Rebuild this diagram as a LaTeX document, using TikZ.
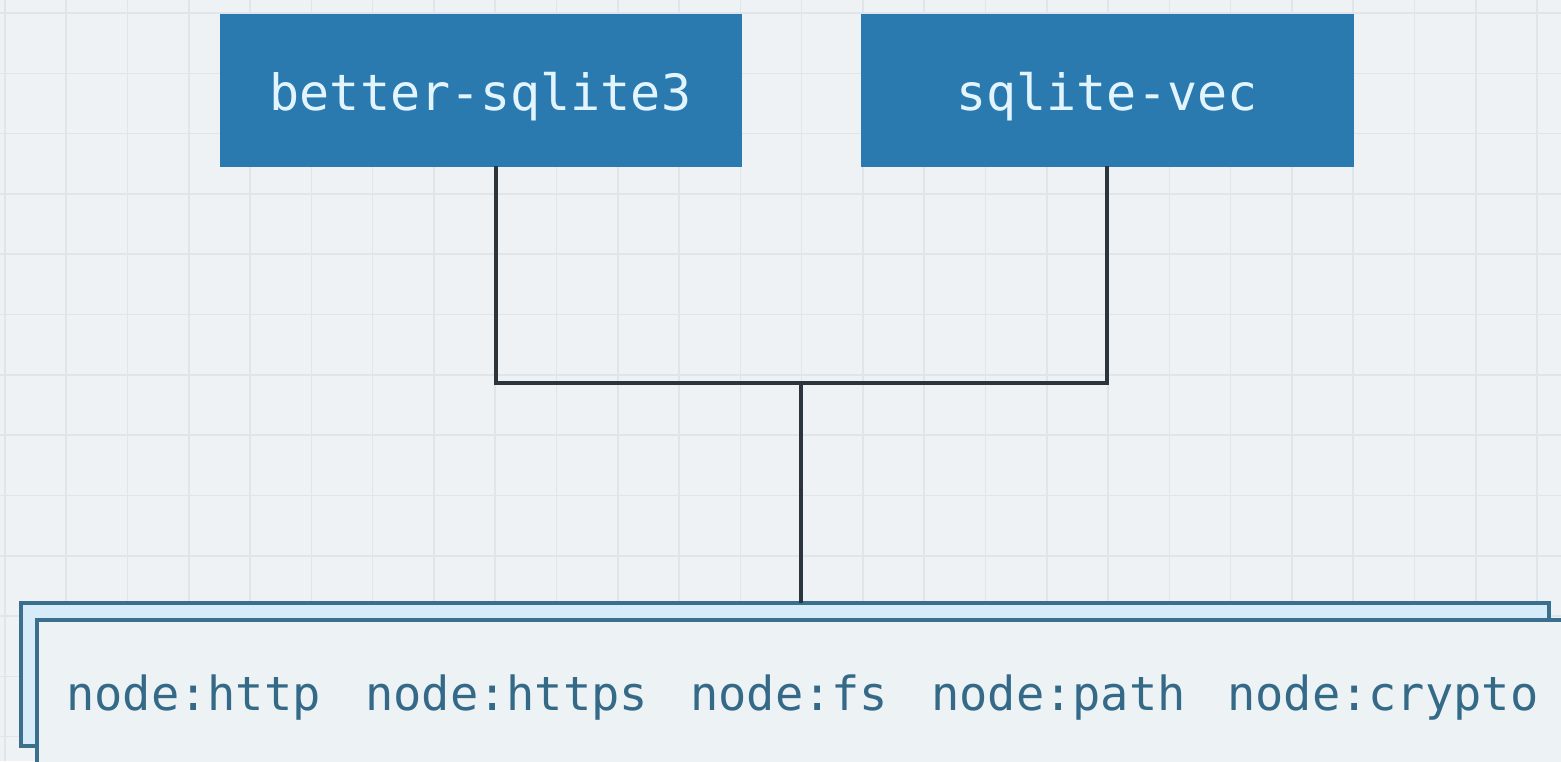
\documentclass[tikz,border=0pt]{standalone}
\usepackage{fontspec}
\setmonofont{DejaVu Sans Mono}
\definecolor{bgc}{HTML}{EEF2F5}
\definecolor{gridc}{HTML}{DFE5EA}
\definecolor{boxc}{HTML}{2A7AB0}
\definecolor{boxtext}{HTML}{E2F5FF}
\definecolor{linec}{HTML}{2B353B}
\definecolor{stackborder}{HTML}{3A6F8E}
\definecolor{stackback}{HTML}{D6ECF8}
\definecolor{stackfront}{HTML}{EDF2F5}
\definecolor{stacktext}{HTML}{346A88}
\tikzset{
  pkgbox/.style={fill=boxc, draw=boxc, line width=0.5pt, text=boxtext, inner sep=0pt,
    font=\ttfamily\fontsize{50}{58}\selectfont},
  conn/.style={draw=linec, line width=3.5pt},
  modlabel/.style={text=stacktext, anchor=base west, inner sep=0pt,
    font=\ttfamily\fontsize{47}{55}\selectfont},
  stackrect/.style={draw=stackborder, line width=3.5pt}
}
\begin{document}
\begin{tikzpicture}[x=1pt,y=-1pt]
\useasboundingbox (0,0) rectangle (1561,761);
\fill[bgc] (0,0) rectangle (1561,761);
% grid
\foreach \i in {0,...,25} {
  \draw[gridc, line width=1.6pt] ({5+61.28*\i},0) -- ({5+61.28*\i},761);
}
\foreach \j in {0,...,12} {
  \draw[gridc, line width=1.6pt] (0,{13+60.3*\j}) -- (1561,{13+60.3*\j});
}
% top boxes
\node[pkgbox, minimum width=521pt, minimum height=152pt] (bs) at (480.5,90) {};
\node[pkgbox, minimum width=492pt, minimum height=152pt] (sv) at (1107,90) {};
\node[text=boxtext, inner sep=0pt, anchor=base, font=\ttfamily\fontsize{50}{58}\selectfont] (bst) at (480.5,110) {better-sqlite3};
\node[text=boxtext, inner sep=0pt, anchor=base, font=\ttfamily\fontsize{50}{58}\selectfont] (svt) at (1107,110) {sqlite-vec};
% stacked module rectangles
\draw[stackrect, fill=stackback] (21,603) rectangle (1549,746);
\coordinate (stacktop) at (801,603);
\draw[stackrect, fill=stackfront] (37,620) rectangle (1575,775);
% connectors
\coordinate (jl) at (496,383);
\coordinate (jr) at (1107,383);
\coordinate (jm) at (801,383);
\draw[conn] (bs.south -| jl) -- (jl) -- (jr) -- (sv.south);
\draw[conn] (jm) -- (stacktop);
% module labels
\node[modlabel] (m1) at (66,710) {node:http};
\node[modlabel] (m2) at (365,710) {node:https};
\node[modlabel] (m3) at (690,710) {node:fs};
\node[modlabel] (m4) at (931,710) {node:path};
\node[modlabel] (m5) at (1227,710) {node:crypto};
\end{tikzpicture}
\end{document}
